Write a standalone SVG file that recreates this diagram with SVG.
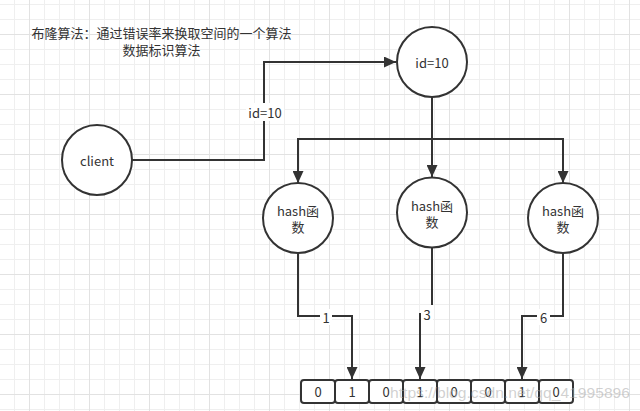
<svg xmlns="http://www.w3.org/2000/svg" width="640" height="411" viewBox="0 0 640 411">
<style>
  .n { fill: #fff; stroke: #333; stroke-width: 2; }
  .e { fill: none; stroke: #333; stroke-width: 2; }
  .t { font-family: "Noto Sans CJK SC", "Liberation Sans", sans-serif; font-size: 13px; fill: #333; text-anchor: middle; dominant-baseline: central; }
  .lb { fill: #fff; }
  .cell { fill: #fff; stroke: #333; stroke-width: 2; }
</style>
<defs>
  <pattern id="grid" patternUnits="userSpaceOnUse" x="29" y="34" width="60" height="60">
    <rect x="15" y="0" width="1" height="60" fill="#efefef"/>
    <rect x="30" y="0" width="1" height="60" fill="#efefef"/>
    <rect x="45" y="0" width="1" height="60" fill="#efefef"/>
    <rect x="0" y="15" width="60" height="1" fill="#efefef"/>
    <rect x="0" y="30" width="60" height="1" fill="#efefef"/>
    <rect x="0" y="45" width="60" height="1" fill="#efefef"/>
    <rect x="0" y="0" width="1" height="60" fill="#e2e2e2"/>
    <rect x="0" y="0" width="60" height="1" fill="#e2e2e2"/>
  </pattern>
  <marker id="arr" markerUnits="userSpaceOnUse" markerWidth="12" markerHeight="11" refX="12" refY="5.5" orient="auto">
    <path d="M0,0 L12,5.5 L0,11 Z" fill="#333"/>
  </marker>
</defs>
<rect width="640" height="411" fill="#fff"/>
<rect width="640" height="411" fill="url(#grid)"/>

<g id="title">
  <text class="t" x="161.5" y="32.5">布隆算法：通过错误率来换取空间的一个算法</text>
  <text class="t" x="161.5" y="49">数据标识算法</text>
</g>

<g id="connectors">
  <path class="e" d="M132,160 H264 V62 H396" marker-end="url(#arr)"/>
  <path class="e" d="M432,97 V177" marker-end="url(#arr)"/>
  <path class="e" d="M432,139 H298 V183" marker-end="url(#arr)"/>
  <path class="e" d="M432,139 H563 V183" marker-end="url(#arr)"/>
  <path class="e" d="M298,253 V316 H352 V379" marker-end="url(#arr)"/>
  <path class="e" d="M432,248 V314 H420 V379" marker-end="url(#arr)"/>
  <path class="e" d="M563,253 V316 H522 V379" marker-end="url(#arr)"/>
  <rect class="lb" x="246" y="103" width="38" height="18"/>
  <text class="t" x="265" y="112">id=10</text>
  <rect class="lb" x="320" y="309" width="12" height="16"/>
  <text class="t" x="326" y="317.5">1</text>
  <rect class="lb" x="421" y="305" width="12" height="17"/>
  <text class="t" x="427" y="314.5">3</text>
  <rect class="lb" x="537" y="309" width="13" height="16"/>
  <text class="t" x="543.5" y="317.5">6</text>
</g>

<g id="node-client">
  <circle class="n" cx="97" cy="160" r="35"/>
  <text class="t" x="97" y="160">client</text>
</g>
<g id="node-id10">
  <circle class="n" cx="432" cy="62" r="35"/>
  <text class="t" x="432" y="62">id=10</text>
</g>
<g id="node-hash1">
  <circle class="n" cx="298" cy="218" r="35"/>
  <text class="t" x="298" y="210.5">hash函</text>
  <text class="t" x="298" y="226.5">数</text>
</g>
<g id="node-hash2">
  <circle class="n" cx="432" cy="212.5" r="35"/>
  <text class="t" x="432" y="205">hash函</text>
  <text class="t" x="432" y="221">数</text>
</g>
<g id="node-hash3">
  <circle class="n" cx="563" cy="218" r="35"/>
  <text class="t" x="563" y="210.5">hash函</text>
  <text class="t" x="563" y="226.5">数</text>
</g>

<g id="node-array">
  <rect class="cell" x="301" y="380" width="34" height="23" rx="3"/>
  <rect class="cell" x="335" y="380" width="34" height="23" rx="3"/>
  <rect class="cell" x="369" y="380" width="34" height="23" rx="3"/>
  <rect class="cell" x="403" y="380" width="34" height="23" rx="3"/>
  <rect class="cell" x="437" y="380" width="34" height="23" rx="3"/>
  <rect class="cell" x="471" y="380" width="34" height="23" rx="3"/>
  <rect class="cell" x="505" y="380" width="34" height="23" rx="3"/>
  <rect class="cell" x="539" y="380" width="34" height="23" rx="3"/>
  <text class="t" x="318" y="391.5">0</text>
  <text class="t" x="352" y="391.5">1</text>
  <text class="t" x="386" y="391.5">0</text>
  <text class="t" x="420" y="391.5">1</text>
  <text class="t" x="454" y="391.5">0</text>
  <text class="t" x="488" y="391.5">0</text>
  <text class="t" x="522" y="391.5">1</text>
  <text class="t" x="556" y="391.5">0</text>
</g>

<g id="watermark">
  <text x="390" y="398" font-family="Liberation Sans, sans-serif" font-size="15.5" fill="#aaa" fill-opacity="0.55" textLength="240" lengthAdjust="spacingAndGlyphs">https://blog.csdn.net/qq_41995896</text>
</g>
</svg>
